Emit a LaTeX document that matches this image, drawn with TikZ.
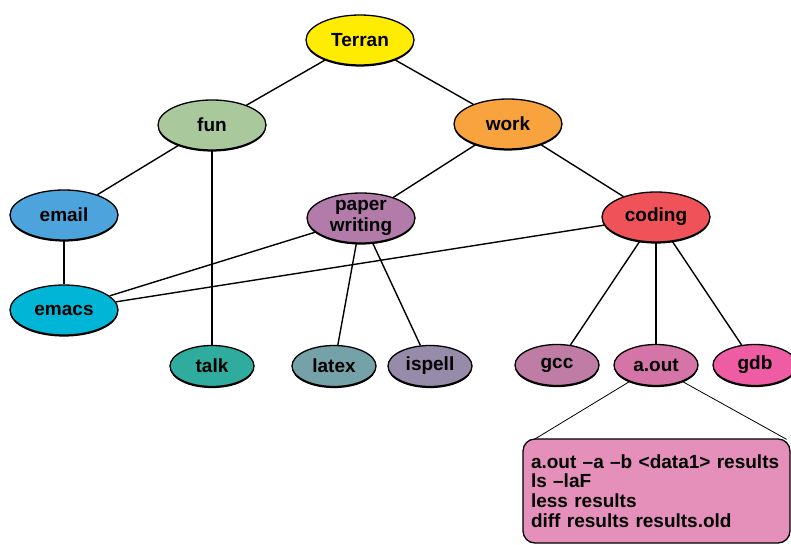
\documentclass[tikz,border=0pt]{standalone}
\usepackage{fontspec}
\setmainfont{Liberation Sans}
\usetikzlibrary{shapes.geometric,shadows}
\definecolor{cterran}{HTML}{FFEC00}
\definecolor{cfun}{HTML}{A9C99D}
\definecolor{cwork}{HTML}{F9A33E}
\definecolor{cemail}{HTML}{4DA3DB}
\definecolor{cpaper}{HTML}{B27BAA}
\definecolor{ccoding}{HTML}{EF5258}
\definecolor{cemacs}{HTML}{00B5D5}
\definecolor{ctalk}{HTML}{30AC9F}
\definecolor{clatex}{HTML}{75A1A8}
\definecolor{cispell}{HTML}{968BA8}
\definecolor{cgcc}{HTML}{BF7DA6}
\definecolor{caout}{HTML}{D574A6}
\definecolor{cgdb}{HTML}{EE5DA3}
\definecolor{cbox}{HTML}{E58FBB}
\begin{document}
\begin{tikzpicture}[x=1pt,y=-1pt,
  lbl/.style={font=\fontsize{19}{21}\selectfont\bfseries},
  bubble/.style={ellipse, draw=black, line width=1.3pt, inner sep=0pt, lbl,
    drop shadow={shadow xshift=0pt, shadow yshift=-1.6pt, opacity=1, fill=black}},
  big/.style={bubble, minimum width=108pt, minimum height=50pt},
  small/.style={bubble, minimum width=84pt, minimum height=41pt},
  link/.style={draw=black, line width=1.4pt},
  thinlink/.style={draw=black, line width=0.8pt}]
\useasboundingbox (0,0) rectangle (791,544);

\node[big, fill=cterran] (terran) at (360,40) {Terran};
\node[big, fill=cfun] (fun) at (212,125) {fun};
\node[big, fill=cwork] (work) at (508,124) {work};
\node[big, fill=cemail] (email) at (64,215) {email};
\node[big, fill=cpaper, align=center] (paper) at (361,218) {paper\\writing};
\node[big, fill=ccoding] (coding) at (656,217) {coding};
\node[big, fill=cemacs] (emacs) at (64,310) {emacs};
\node[small, fill=ctalk] (talk) at (212,366) {talk};
\node[small, fill=clatex] (latex) at (334,366) {latex};
\node[small, fill=cispell] (ispell) at (430,366) {ispell};
\node[small, fill=cgcc] (gcc) at (557,365) {gcc};
\node[small, fill=caout] (aout) at (656,365) {a.out};
\node[small, fill=cgdb] (gdb) at (755,365) {gdb};

\node[draw=black, line width=1.3pt, rounded corners=12pt, fill=cbox,
  minimum width=267pt, minimum height=104pt, text width=251pt,
  inner xsep=8pt, align=left, font=\fontsize{19}{19.7}\selectfont\bfseries]
  (box) at (656.5,491) {a.out --a --b <data1> results\\ls --laF\\less results\\diff results results.old};

\coordinate (boxl) at ([xshift=12pt,yshift=-1pt]box.north west);
\coordinate (boxr) at ([xshift=-4pt,yshift=-1pt]box.north east);

\draw[link] (terran) -- (fun);
\draw[link] (terran) -- (work);
\draw[link] (fun) -- (email);
\draw[link] (fun) -- (talk);
\draw[link] (work) -- (paper);
\draw[link] (work) -- (coding);
\draw[link] (email) -- (emacs);
\draw[link] (paper) -- (emacs);
\draw[link] (coding) -- (emacs);
\draw[link] (paper) -- (latex);
\draw[link] (paper) -- (ispell);
\draw[link] (coding) -- (gcc);
\draw[link] (coding) -- (aout);
\draw[link] (coding) -- (gdb);
\draw[thinlink] (aout.212) -- (boxl);
\draw[thinlink] (aout.328) -- (boxr);
\end{tikzpicture}
\end{document}
